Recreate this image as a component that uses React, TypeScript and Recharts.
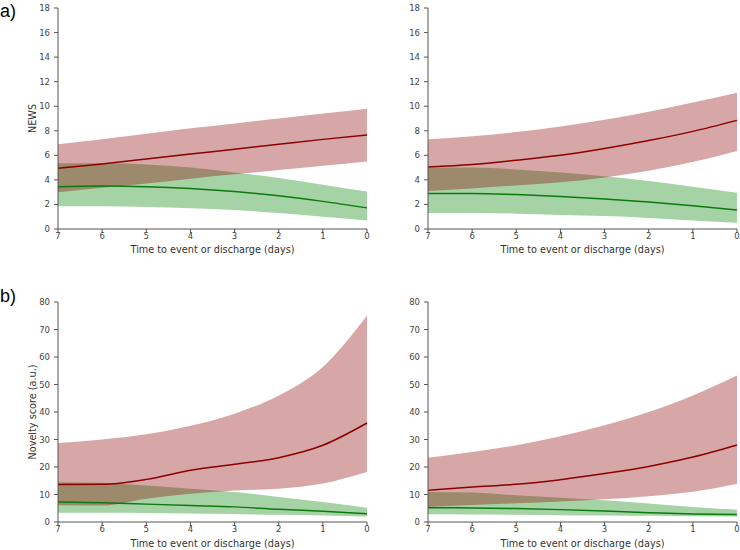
import {
  ComposedChart,
  Area,
  Line,
  XAxis,
  YAxis,
} from 'recharts';

// days before event or discharge (axis runs 7 -> 0)
const days = [7, 6, 5, 4, 3, 2, 1, 0];

// a) NEWS, left panel
const newsLeftRedMean = [4.95, 5.3, 5.7, 6.1, 6.5, 6.9, 7.3, 7.65];
const newsLeftRedLo = [3.0, 3.35, 3.7, 4.1, 4.45, 4.8, 5.15, 5.5];
const newsLeftRedHi = [6.9, 7.3, 7.75, 8.2, 8.6, 9.0, 9.4, 9.8];
const newsLeftGreenMean = [3.45, 3.5, 3.45, 3.3, 3.05, 2.7, 2.25, 1.72];
const newsLeftGreenLo = [1.85, 1.85, 1.8, 1.7, 1.55, 1.3, 1.0, 0.7];
const newsLeftGreenHi = [5.35, 5.35, 5.25, 5.0, 4.6, 4.15, 3.6, 3.05];

// a) NEWS, right panel
const newsRightRedMean = [5.05, 5.25, 5.6, 6.0, 6.55, 7.2, 7.95, 8.85];
const newsRightRedLo = [3.1, 3.3, 3.55, 3.8, 4.2, 4.75, 5.45, 6.35];
const newsRightRedHi = [7.3, 7.55, 7.9, 8.35, 8.9, 9.55, 10.3, 11.1];
const newsRightGreenMean = [2.9, 2.9, 2.8, 2.65, 2.45, 2.2, 1.9, 1.55];
const newsRightGreenLo = [1.3, 1.3, 1.25, 1.15, 1.05, 0.9, 0.7, 0.5];
const newsRightGreenHi = [5.0, 5.0, 4.85, 4.6, 4.3, 3.9, 3.45, 2.95];

// b) novelty score, left panel
const novLeftRedMean = [13.6, 13.7, 15.5, 18.8, 21.0, 23.4, 27.9, 36.0];
const novLeftRedLo = [6.1, 6.0, 8.5, 10.3, 11.5, 12.1, 14.0, 18.2];
const novLeftRedHi = [28.7, 30.0, 31.9, 35.0, 39.4, 46.0, 56.4, 75.0];
const novLeftGreenMean = [7.3, 7.0, 6.5, 6.0, 5.5, 4.6, 3.9, 3.0];
const novLeftGreenLo = [3.4, 3.4, 3.3, 3.1, 2.9, 2.6, 2.4, 2.0];
const novLeftGreenHi = [14.5, 14.3, 13.3, 12.1, 10.9, 9.1, 7.3, 5.2];

// b) novelty score, right panel
const novRightRedMean = [11.5, 12.7, 13.7, 15.4, 17.6, 20.2, 23.6, 28.0];
const novRightRedLo = [5.5, 6.2, 6.8, 7.5, 8.3, 9.4, 11.0, 13.8];
const novRightRedHi = [23.4, 25.5, 27.9, 31.2, 35.2, 40.0, 46.0, 53.3];
const novRightGreenMean = [5.2, 5.1, 4.9, 4.5, 4.0, 3.4, 2.9, 2.7];
const novRightGreenLo = [2.8, 2.75, 2.65, 2.5, 2.4, 2.25, 2.1, 2.0];
const novRightGreenHi = [10.9, 10.7, 9.7, 8.8, 7.9, 6.7, 5.5, 4.5];

const newsTicks = [0, 2, 4, 6, 8, 10, 12, 14, 16, 18];
const novTicks = [0, 10, 20, 30, 40, 50, 60, 70, 80];

const RED = '#8b0000';
const GREEN = '#0c7a0c';
const AXIS = '#555';
const FONT = 'DejaVu Sans, sans-serif';

function build(
  rMean: number[], rLo: number[], rHi: number[],
  gMean: number[], gLo: number[], gHi: number[],
) {
  return days.map((day, i) => ({
    day,
    rMean: rMean[i],
    rBand: [rLo[i], rHi[i]],
    gMean: gMean[i],
    gBand: [gLo[i], gHi[i]],
  }));
}

interface PanelProps {
  data: ReturnType<typeof build>;
  left: number;
  top: number;
  height: number;
  plotTop: number;
  plotHeight: number;
  labelOffset: number;
  yMax: number;
  yTicks: number[];
  yLabel?: string;
}

function Panel({ data, left, top, height, plotTop, plotHeight, labelOffset, yMax, yTicks, yLabel }: PanelProps) {
  const tick = { fontSize: 8.5, fill: '#444', fontFamily: FONT };
  return (
    <div style={{ position: 'absolute', left, top, width: 370, height }}>
      <ComposedChart
        width={370}
        height={height}
        data={data}
        margin={{ top: plotTop, right: 3, left: 18, bottom: 2 }}
      >
        <XAxis
          dataKey="day"
          type="number"
          domain={[0, 7]}
          ticks={days}
          reversed
          stroke={AXIS}
          tick={tick}
          tickSize={4}
          tickMargin={0}
          height={height - plotTop - 2 - plotHeight}
          label={{
            value: 'Time to event or discharge (days)',
            position: 'insideBottom',
            offset: labelOffset,
            style: { fontSize: 9.7, fill: '#333', fontFamily: FONT },
          }}
        />
        <YAxis
          type="number"
          domain={[0, yMax]}
          ticks={yTicks}
          width={40}
          stroke={AXIS}
          tick={tick}
          tickSize={4}
          tickMargin={4}
          label={
            yLabel
              ? {
                  value: yLabel,
                  angle: -90,
                  position: 'insideLeft',
                  offset: 15,
                  style: { fontSize: 9.7, fill: '#333', fontFamily: FONT, textAnchor: 'middle' },
                }
              : undefined
          }
        />
        <Area
          type="monotone"
          dataKey="gBand"
          stroke="none"
          fill="#008000"
          fillOpacity={0.35}
          isAnimationActive={false}
          activeDot={false}
        />
        <Area
          type="monotone"
          dataKey="rBand"
          stroke="none"
          fill={RED}
          fillOpacity={0.35}
          isAnimationActive={false}
          activeDot={false}
        />
        <Line
          type="monotone"
          dataKey="gMean"
          stroke={GREEN}
          strokeWidth={1.5}
          dot={false}
          isAnimationActive={false}
        />
        <Line
          type="monotone"
          dataKey="rMean"
          stroke={RED}
          strokeWidth={1.5}
          dot={false}
          isAnimationActive={false}
        />
      </ComposedChart>
    </div>
  );
}

const panelLabel = {
  position: 'absolute' as const,
  left: 0,
  fontFamily: 'Liberation Sans, Arial, sans-serif',
  fontSize: 18,
  color: '#000',
  lineHeight: 1,
};

export default function App() {
  return (
    <div style={{ position: 'absolute', left: 0, top: 0, width: 740, height: 550, background: '#fff' }}>
      <Panel
        data={build(newsLeftRedMean, newsLeftRedLo, newsLeftRedHi, newsLeftGreenMean, newsLeftGreenLo, newsLeftGreenHi)}
        left={0} top={0} height={270} plotTop={8} plotHeight={221} labelOffset={15}
        yMax={18} yTicks={newsTicks} yLabel="NEWS"
      />
      <Panel
        data={build(newsRightRedMean, newsRightRedLo, newsRightRedHi, newsRightGreenMean, newsRightGreenLo, newsRightGreenHi)}
        left={370} top={0} height={270} plotTop={8} plotHeight={221} labelOffset={15}
        yMax={18} yTicks={newsTicks}
      />
      <Panel
        data={build(novLeftRedMean, novLeftRedLo, novLeftRedHi, novLeftGreenMean, novLeftGreenLo, novLeftGreenHi)}
        left={0} top={270} height={280} plotTop={32} plotHeight={220} labelOffset={1}
        yMax={80} yTicks={novTicks} yLabel="Novelty score (a.u.)"
      />
      <Panel
        data={build(novRightRedMean, novRightRedLo, novRightRedHi, novRightGreenMean, novRightGreenLo, novRightGreenHi)}
        left={370} top={270} height={280} plotTop={32} plotHeight={220} labelOffset={1}
        yMax={80} yTicks={novTicks}
      />
      <div style={{ ...panelLabel, top: 2 }}>a)</div>
      <div style={{ ...panelLabel, top: 287 }}>b)</div>
    </div>
  );
}
